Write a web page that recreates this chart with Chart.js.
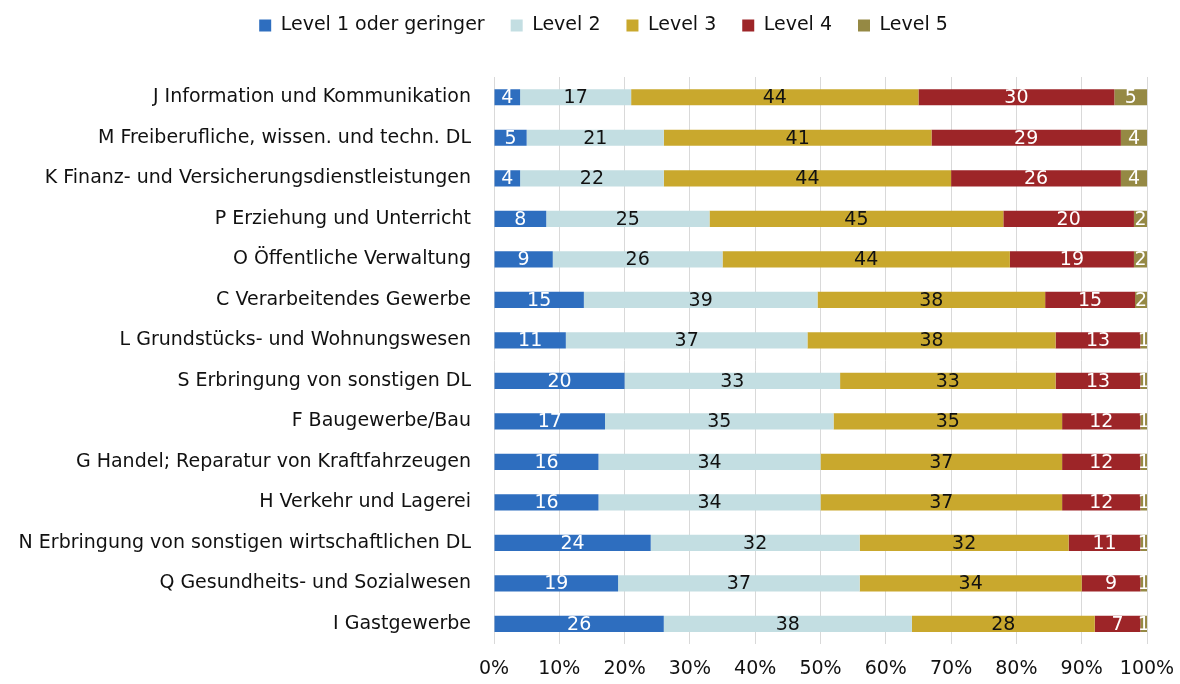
<!DOCTYPE html>
<html>
<head>
<meta charset="utf-8">
<script src="https://cdn.jsdelivr.net/npm/chart.js@4/dist/chart.umd.min.js"></script>
<style>
  html, body { margin: 0; padding: 0; background: #fff; }
  #wrap { width: 1180px; height: 684px; }
</style>
</head>
<body>
<div id="wrap"><canvas id="barChart" width="1180" height="684"></canvas></div>
<script>
// categories (top to bottom)
var branchen = [
    "J Information und Kommunikation",
    "M Freiberufliche, wissen. und techn. DL",
    "K Finanz- und Versicherungsdienstleistungen",
    "P Erziehung und Unterricht",
    "O Öffentliche Verwaltung",
    "C Verarbeitendes Gewerbe",
    "L Grundstücks- und Wohnungswesen",
    "S Erbringung von sonstigen DL",
    "F Baugewerbe/Bau",
    "G Handel; Reparatur von Kraftfahrzeugen",
    "H Verkehr und Lagerei",
    "N Erbringung von sonstigen wirtschaftlichen DL",
    "Q Gesundheits- und Sozialwesen",
    "I Gastgewerbe"
];

// values as labelled in the chart
var level1 = [4, 5, 4, 8, 9, 15, 11, 20, 17, 16, 16, 24, 19, 26];
var level2 = [17, 21, 22, 25, 26, 39, 37, 33, 35, 34, 34, 32, 37, 38];
var level3 = [44, 41, 44, 45, 44, 38, 38, 33, 35, 37, 37, 32, 34, 28];
var level4 = [30, 29, 26, 20, 19, 15, 13, 13, 12, 12, 12, 11, 9, 7];
var level5 = [5, 4, 4, 2, 2, 2, 1, 1, 1, 1, 1, 1, 1, 1];

var seriesNames = ["Level 1 oder geringer", "Level 2", "Level 3", "Level 4", "Level 5"];
var seriesColors = ["#2e6ebf", "#c3dee2", "#c9a82d", "#9d2528", "#958944"];
var labelColors = ["#ffffff", "#111111", "#111111", "#ffffff", "#ffffff"];

var xTicks = [0, 10, 20, 30, 40, 50, 60, 70, 80, 90, 100];

var FONT = "'DejaVu Sans', 'Open Sans', sans-serif";
var FSIZE = 19;

// 100% stacked: each row is scaled to its own total
var allSeries = [level1, level2, level3, level4, level5];
var rowSums = branchen.map(function (b, i) {
    var s = 0;
    allSeries.forEach(function (arr) { s += arr[i]; });
    return s;
});

var datasets = allSeries.map(function (arr, k) {
    return {
        label: seriesNames[k],
        data: arr.map(function (v, i) { return v / rowSums[i] * 100; }),
        raw: arr,
        backgroundColor: seriesColors[k],
        borderWidth: 0,
        barPercentage: 0.4,
        categoryPercentage: 1.0
    };
});

// draws the numbers in the middle of each segment
var segmentLabels = {
    id: 'segmentLabels',
    afterDatasetsDraw: function (chart) {
        var ctx = chart.ctx;
        var area = chart.chartArea;
        ctx.save();
        ctx.beginPath();
        ctx.rect(area.left, area.top, area.right - area.left, area.bottom - area.top);
        ctx.clip();
        ctx.font = FSIZE + "px " + FONT;
        ctx.textAlign = "center";
        ctx.textBaseline = "middle";
        chart.data.datasets.forEach(function (ds, k) {
            var meta = chart.getDatasetMeta(k);
            ctx.fillStyle = labelColors[k];
            meta.data.forEach(function (bar, i) {
                var cx = (bar.x + bar.base) / 2;
                ctx.fillText(String(ds.raw[i]), cx, bar.y + 1);
            });
        });
        ctx.restore();
    }
};

// legend keeps a wide horizontal gap but gets a fixed height,
// and sits a little right of the canvas centre like the original
var legendTweak = {
    id: 'legendTweak',
    beforeInit: function (chart) {
        var lg = chart.legend;
        var fit = lg.fit;
        var draw = lg.draw;
        lg.fit = function () {
            fit.bind(lg)();
            this.height = 91;
        };
        lg.draw = function () {
            chart.ctx.save();
            chart.ctx.translate(30, 4);
            draw.bind(lg)();
            chart.ctx.restore();
        };
    }
};

Chart.defaults.font.family = FONT;
Chart.defaults.font.size = FSIZE;
Chart.defaults.color = "#111111";

var myBarChart = new Chart(document.getElementById("barChart").getContext('2d'), {
    type: 'bar',
    data: {
        labels: branchen,
        datasets: datasets
    },
    options: {
        indexAxis: 'y',
        responsive: false,
        animation: false,
        layout: {
            padding: { top: -14, right: 33, bottom: -9, left: 0 }
        },
        plugins: {
            legend: {
                position: 'top',
                labels: {
                    boxWidth: 12,
                    boxHeight: 12,
                    padding: 26,
                    font: { size: FSIZE, family: FONT },
                    color: "#111111"
                }
            },
            tooltip: { enabled: false }
        },
        scales: {
            x: {
                stacked: true,
                min: 0,
                max: 100,
                border: { display: false },
                grid: { color: "#d9d9d9", lineWidth: 1, drawTicks: false },
                afterBuildTicks: function (scale) {
                    scale.ticks = xTicks.map(function (v) { return { value: v }; });
                },
                afterFit: function (scale) {
                    scale.paddingLeft = 0;
                    scale.paddingRight = 0;
                },
                ticks: {
                    padding: 13,
                    callback: function (v) { return v + "%"; },
                    font: { size: FSIZE, family: FONT },
                    color: "#111111",
                    maxRotation: 0
                }
            },
            y: {
                stacked: true,
                border: { display: false },
                grid: { display: false, drawTicks: false },
                afterFit: function (scale) { scale.width = 494; },
                ticks: {
                    padding: 23,
                    font: { size: FSIZE, family: FONT },
                    color: "#111111",
                    autoSkip: false
                }
            }
        }
    },
    plugins: [segmentLabels, legendTweak]
});
</script>
</body>
</html>
